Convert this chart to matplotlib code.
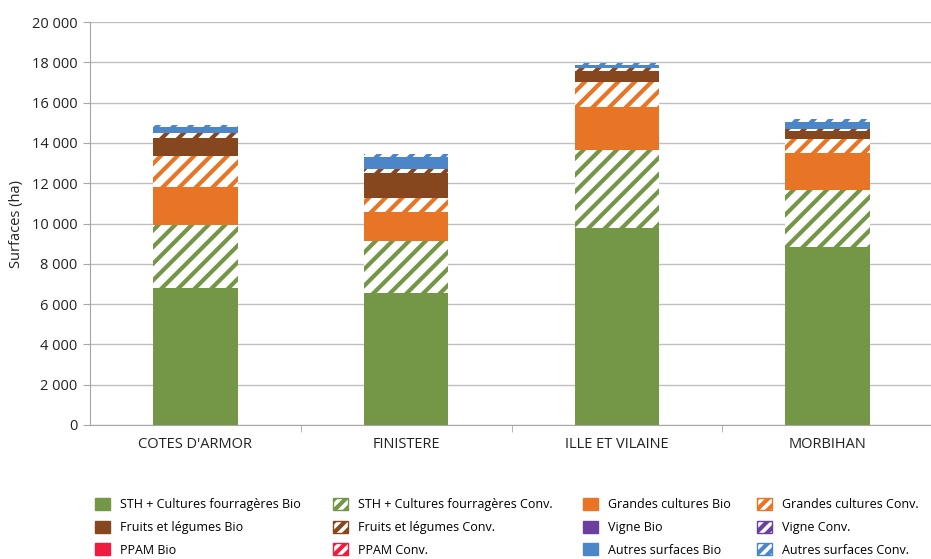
import matplotlib
matplotlib.use("Agg")
import matplotlib.pyplot as plt
from matplotlib.patches import Patch
from matplotlib.ticker import FuncFormatter, MultipleLocator
import numpy as np

plt.rcParams['font.family'] = ['Open Sans', 'DejaVu Sans']
plt.rcParams['hatch.linewidth'] = 3.0

departements = ["COTES D'ARMOR", "FINISTERE", "ILLE ET VILAINE", "MORBIHAN"]

sth_bio = [6800, 6550, 9780, 8830]
sth_conv = [3130, 2580, 3870, 2830]
gc_bio = [1880, 1440, 2130, 1840]
gc_conv = [1540, 700, 1240, 690]
fl_bio = [890, 1230, 550, 400]
fl_conv = [250, 200, 150, 100]
vigne_bio = [0, 0, 0, 0]
vigne_conv = [0, 0, 0, 0]
ppam_bio = [10, 10, 10, 10]
ppam_conv = [10, 10, 10, 10]
autres_bio = [300, 600, 150, 350]
autres_conv = [100, 150, 100, 150]

series = [
    ("STH + Cultures fourragères Bio", sth_bio, "#739647", False),
    ("STH + Cultures fourragères Conv.", sth_conv, "#739647", True),
    ("Grandes cultures Bio", gc_bio, "#E87425", False),
    ("Grandes cultures Conv.", gc_conv, "#E87425", True),
    ("Fruits et légumes Bio", fl_bio, "#86461E", False),
    ("Fruits et légumes Conv.", fl_conv, "#86461E", True),
    ("Vigne Bio", vigne_bio, "#6B3FA0", False),
    ("Vigne Conv.", vigne_conv, "#6B3FA0", True),
    ("PPAM Bio", ppam_bio, "#EE1C3F", False),
    ("PPAM Conv.", ppam_conv, "#EE1C3F", True),
    ("Autres surfaces Bio", autres_bio, "#4A86C8", False),
    ("Autres surfaces Conv.", autres_conv, "#4A86C8", True),
]

fig = plt.figure(figsize=(9.31, 5.59), dpi=100)
ax = fig.add_axes([90/931, 1-425/559, 843/931, 403/559])

x = np.arange(len(departements))
bottom = np.zeros(len(departements))
handles = []
for name, vals, col, hatched in series:
    vals = np.array(vals, dtype=float)
    if hatched:
        ax.bar(x, vals, 0.40, bottom=bottom, facecolor="white", edgecolor=col,
               hatch="//", linewidth=0, zorder=3)
        handles.append(Patch(facecolor="white", edgecolor=col, hatch="///", linewidth=1.0, label=name))
    else:
        ax.bar(x, vals, 0.40, bottom=bottom, color=col, linewidth=0, zorder=3)
        handles.append(Patch(facecolor=col, edgecolor=col, label=name))
    bottom += vals

ax.set_xlim(-0.5, 3.5)
ax.set_ylim(0, 20000)
ax.yaxis.set_major_locator(MultipleLocator(2000))
ax.yaxis.set_major_formatter(FuncFormatter(lambda v, p: f"{int(v):,}".replace(",", " ")))
ax.grid(axis="y", color="#BFBFBF", linewidth=1.0, zorder=0)
ax.set_axisbelow(True)
for s in ["top", "right"]:
    ax.spines[s].set_visible(False)
ax.spines["left"].set_color("#A6A6A6")
ax.spines["bottom"].set_color("#A6A6A6")
ax.tick_params(axis="y", colors="#A6A6A6", labelcolor="#222222", labelsize=10.5, length=5, pad=4)
ax.set_xticks(x)
ax.set_xticklabels(departements)
ax.tick_params(axis="x", length=0, labelsize=10.5, labelcolor="#222222", pad=9)
ax.set_xticks([0.5, 1.5, 2.5], minor=True)
ax.tick_params(axis="x", which="minor", length=5, colors="#A6A6A6")
ax.set_ylabel("Surfaces (ha)", fontsize=10.5, color="#222222", labelpad=6)

col_x = [95/931, 333/931, 583/931, 757/931]
for c in range(4):
    hs = [handles[r * 4 + c] for r in range(3)]
    fig.legend(handles=hs, loc="upper left", bbox_to_anchor=(col_x[c], 1 - 498/559),
               frameon=False, fontsize=9, handlelength=1.2, handleheight=1.1,
               handletextpad=0.8, labelspacing=0.75, borderpad=0, borderaxespad=0)

fig.savefig("out.png", dpi=100)
